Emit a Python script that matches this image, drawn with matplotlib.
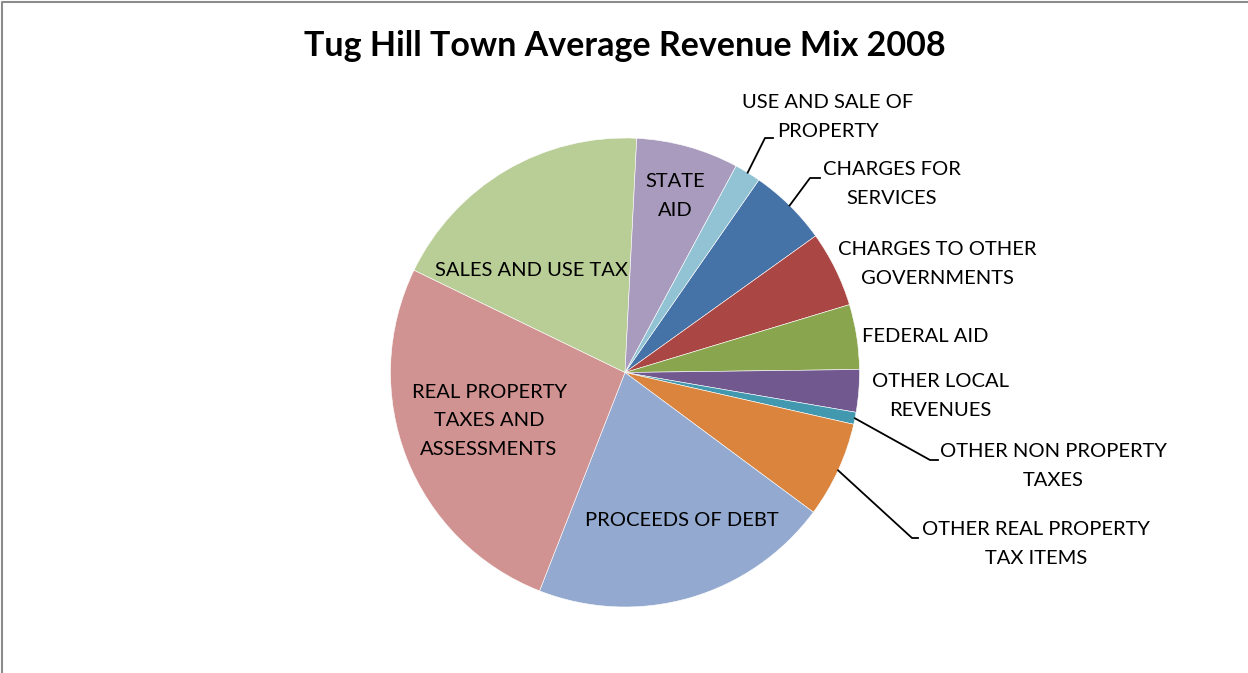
import matplotlib.pyplot as plt
import numpy as np

# revenue mix (percent of total), clockwise from ~1 o'clock
categories = ['CHARGES FOR\nSERVICES', 'CHARGES TO OTHER\nGOVERNMENTS', 'FEDERAL AID',
              'OTHER LOCAL\nREVENUES', 'OTHER NON PROPERTY\nTAXES',
              'OTHER REAL PROPERTY\nTAX ITEMS', 'PROCEEDS OF DEBT',
              'REAL PROPERTY\nTAXES AND\nASSESSMENTS', 'SALES AND USE TAX',
              'STATE\nAID', 'USE AND SALE OF\nPROPERTY']
shares = [5.44, 5.22, 4.47, 2.92, 0.83, 6.61, 20.78, 26.25, 18.61, 7.06, 1.81]
colors = ['#4572A7', '#AA4643', '#89A54E', '#71588F', '#4198AF', '#DB843D',
          '#93A9CF', '#D19392', '#B9CD96', '#A99BBD', '#92C3D4']

W, H = 1248, 673
fig = plt.figure(figsize=(W / 100, H / 100), dpi=100)
ax = fig.add_axes([0, 0, 1, 1])

cx, cy, r = 625, H - 372.5, 234.5
wedges, _ = ax.pie(shares, colors=colors, startangle=90 - 34.8, counterclock=False,
                   center=(cx, cy), radius=r, frame=True,
                   wedgeprops=dict(edgecolor='white', linewidth=0.4))
ax.set_xlim(0, W)
ax.set_ylim(0, H)
ax.set_aspect('equal')
ax.axis('off')

font = 'Lato'
fs = 14.5

# label placement (pixel coords from top-left), inside or outside
label_pos = [(892, 184), (937, 264), (925, 337), (940, 396), (1053, 466),
             (1036, 544), (682, 520), (489, 421), (531, 270), (675, 196), (828, 117)]
# leader lines: (elbow x, elbow y, end x) in pixels
leaders = {0: (810, 178, 820), 4: (930, 460, 938), 5: (912, 538, 918), 10: (765, 138, 773)}

for i, (w, lab) in enumerate(zip(wedges, categories)):
    lx, ly = label_pos[i]
    ax.text(lx, H - ly, lab, ha='center', va='center', fontsize=fs, family=font,
            linespacing=1.82, color='black')
    if i in leaders:
        ex, ey, endx = leaders[i]
        mid = np.deg2rad((w.theta1 + w.theta2) / 2)
        px, py = cx + r * np.cos(mid), cy + r * np.sin(mid)
        ax.plot([px, ex, endx], [py, H - ey, H - ey], color='black', lw=1.3)

ax.text(625, H - 46, 'Tug Hill Town Average Revenue Mix 2008', ha='center', va='center',
        fontsize=24.5, fontweight='bold', family=font)

# chart frame (left and top edges visible)
ax.plot([1.5, 1.5, W], [0, H - 1.5, H - 1.5], color='#8c8c8c', lw=1.5)

fig.savefig('out.png', dpi=100)
